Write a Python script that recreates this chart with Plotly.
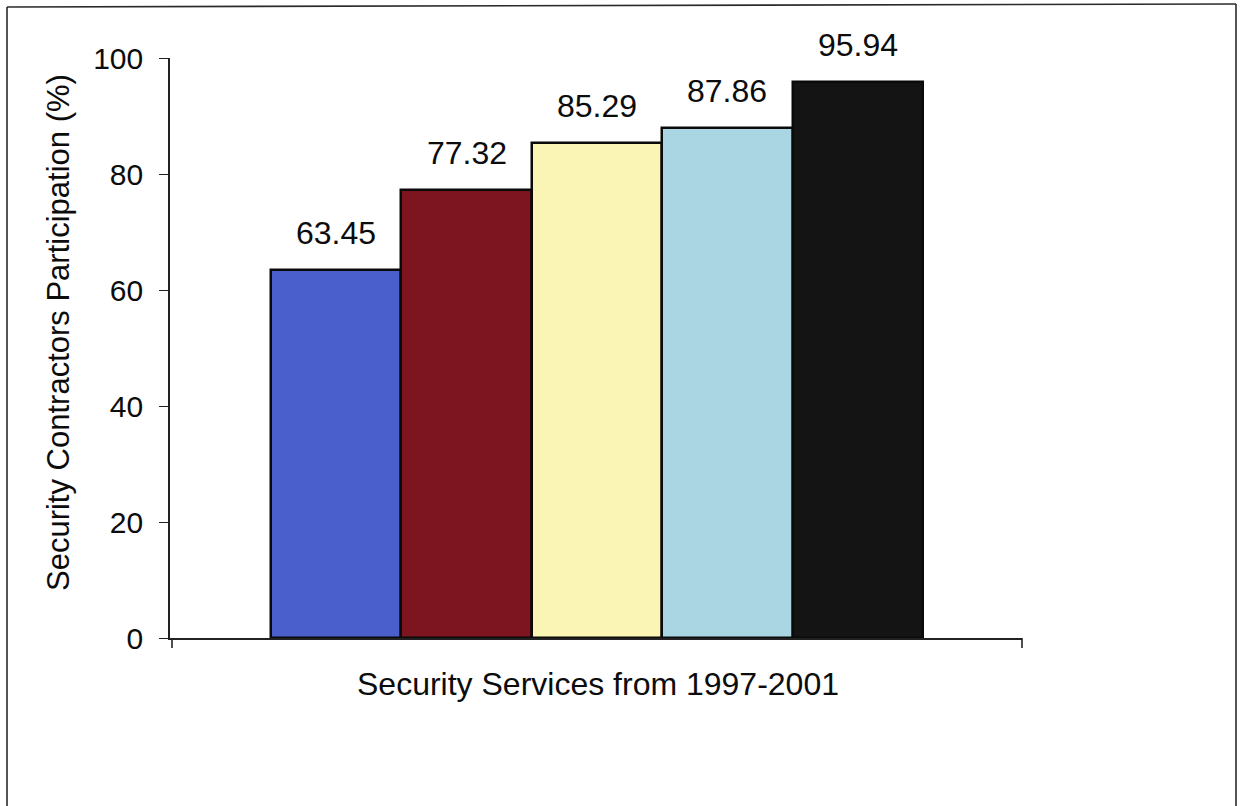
import plotly.graph_objects as go

# Participation of security contractors by service year, 1997-2001
years = ["1997", "1998", "1999", "2000", "2001"]
participation = [63.45, 77.32, 85.29, 87.86, 95.94]
bar_colors = ["#4a5fcc", "#7c1520", "#fbf5b5", "#a9d6e2", "#141414"]
y_ticks = [0, 20, 40, 60, 80, 100]

FONT = "Liberation Sans, Arial, sans-serif"
INK = "#0c0c0c"

W, H = 1241, 806
L, R, T, B = 170, 1022, 58, 638   # plot area in pixels


def px_x(p):
    return (p - L) / (R - L)


def px_y(p):
    return (B - p) / (B - T)


positions = list(range(len(years)))

fig = go.Figure()
fig.add_trace(go.Bar(
    x=positions,
    y=participation,
    width=1.0,
    marker=dict(color=bar_colors, line=dict(color="#0a0a0a", width=2.5)),
    hoverinfo="skip",
    customdata=years,
))

# value labels above each bar
for xi, v in zip(positions, participation):
    fig.add_annotation(
        x=xi, y=v, xref="x", yref="y",
        text=f"{v:.2f}", showarrow=False,
        yanchor="bottom", yshift=17,
        font=dict(family=FONT, size=32, color=INK),
    )

# axis titles
fig.add_annotation(
    x=px_x(58), y=px_y(333), xref="paper", yref="paper",
    text="Security Contractors Participation (%)", textangle=-90,
    showarrow=False, xanchor="center", yanchor="middle",
    font=dict(family=FONT, size=31, color=INK),
)
fig.add_annotation(
    x=px_x(598), y=px_y(684), xref="paper", yref="paper",
    text="Security Services from 1997-2001",
    showarrow=False, xanchor="center", yanchor="middle",
    font=dict(family=FONT, size=32, color=INK),
)

# outer chart frame (left, top, right)
frame = dict(color="#2a2a2a", width=1.6)
fig.add_shape(type="line", xref="paper", yref="paper",
              x0=px_x(7), y0=px_y(7), x1=px_x(7), y1=px_y(806), line=frame)
fig.add_shape(type="line", xref="paper", yref="paper",
              x0=px_x(7), y0=px_y(7), x1=px_x(1236), y1=px_y(4), line=frame)
fig.add_shape(type="line", xref="paper", yref="paper",
              x0=px_x(1236), y0=px_y(4), x1=px_x(1236), y1=px_y(806), line=frame)

# category boundary ticks at both ends of the x axis
for xp in (L + 2, R):
    fig.add_shape(type="line", xref="paper", yref="paper",
                  x0=px_x(xp), y0=0, x1=px_x(xp), y1=px_y(B + 10),
                  line=dict(color="#222222", width=1.6))

fig.update_layout(
    width=W, height=H,
    margin=dict(l=L, r=W - R, t=T, b=H - B, pad=0),
    paper_bgcolor="white", plot_bgcolor="white",
    showlegend=False,
    bargap=0,
    xaxis=dict(
        range=[-1.2745, 5.259], showticklabels=False, ticks="",
        showgrid=False, zeroline=False,
        showline=True, linecolor="#222222", linewidth=1.6,
    ),
    yaxis=dict(
        range=[0, 100], tickvals=y_ticks, ticks="outside", ticklen=9,
        tickcolor="#222222", tickwidth=1.4,
        ticklabelstandoff=10,
        tickfont=dict(family=FONT, size=30, color=INK),
        showgrid=False, zeroline=False,
        showline=True, linecolor="#222222", linewidth=1.6,
    ),
)

fig.write_html("out.html")
